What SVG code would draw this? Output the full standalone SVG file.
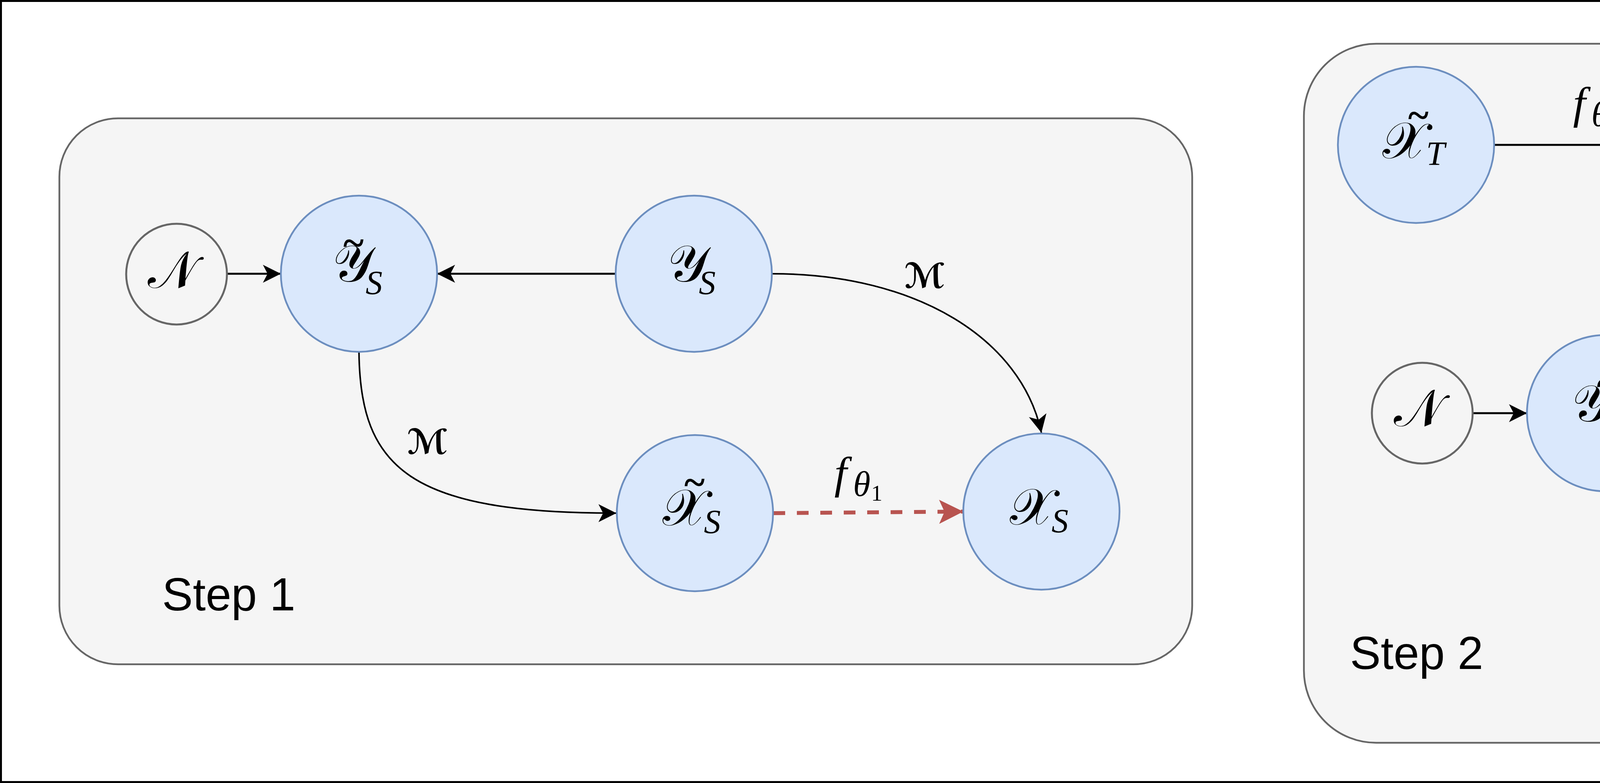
<svg xmlns="http://www.w3.org/2000/svg" width="6655" height="2005" viewBox="0 0 6655 2005">
<style>
.frame{fill:#ffffff;stroke:#000000;stroke-width:5}
.box{fill:#f5f5f5;stroke:#666666;stroke-width:4.5}
.node{fill:#dae8fc;stroke:#6c8ebf;stroke-width:4.5}
.noise{fill:none;stroke:#666666;stroke-width:5}
.edge{fill:none;stroke:#000000;stroke-width:5}
.curve{fill:none;stroke:#000000;stroke-width:4}
.dot{fill:none;stroke:#000000;stroke-width:4.5;stroke-dasharray:5 20}
.red{fill:none;stroke:#b85450;stroke-width:10;stroke-dasharray:30 30}
.scr{font-family:'DejaVu Serif','DejaVu Sans','Noto Sans',serif;font-size:132px;fill:#000}
.scrs{font-family:'DejaVu Serif','DejaVu Sans','Noto Sans',serif;font-size:88px;font-weight:bold;fill:#000}
.it{font-family:'Liberation Serif',serif;font-style:italic;fill:#000}
.rm{font-family:'Liberation Serif',serif;fill:#000}
.sub{font-size:86px}
.subd{font-size:52px}
.tl{font-family:'Liberation Serif',serif;font-weight:bold;font-size:100px;text-anchor:middle;fill:#000}
.hat{font-family:'Liberation Sans',sans-serif;font-size:130px;text-anchor:middle;fill:#000}
.sans{font-family:'Liberation Sans',Arial,sans-serif;fill:#000}
</style>
<defs>
<marker id="arr" markerUnits="userSpaceOnUse" markerWidth="46" markerHeight="46" viewBox="0 0 46 46" refX="46" refY="23" orient="auto"><path d="M0,0 L46,23 L0,46 L12,23 Z" fill="#000"/></marker>
<marker id="arrRed" markerUnits="userSpaceOnUse" markerWidth="62" markerHeight="62" viewBox="0 0 62 62" refX="62" refY="31" orient="auto"><path d="M0,0 L62,31 L0,62 L14,31 Z" fill="#b85450"/></marker>
</defs>
<rect class="frame" x="2.5" y="2.5" width="6650" height="2000"/>
<g id="step1">
<rect class="box" x="152" y="303" width="2900" height="1398" rx="150" ry="150"/>
<text class="sans" x="415" y="1563" font-size="118">Step 1</text>
</g>
<g id="step2">
<rect class="box" x="3338" y="112" width="3165" height="1790" rx="185" ry="185"/>
<text class="sans" x="3456" y="1713" font-size="118">Step 2</text>
</g>
<g id="connectors">
<path class="edge" d="M581 701 L719 701" marker-end="url(#arr)"/>
<path class="edge" d="M1576 701 L1119 701" marker-end="url(#arr)"/>
<path class="curve" d="M1976 701 C2350 701 2615 870 2666 1108" marker-end="url(#arr)"/>
<path class="curve" d="M919 902 C922 1200 1050 1314 1578 1314" marker-end="url(#arr)"/>
<path class="red" d="M1980 1314 L2466 1310" marker-end="url(#arrRed)"/>
<path class="edge" d="M3825 371 L4302 371" marker-end="url(#arr)"/>
<path class="edge" d="M4703 371 L5181 371" marker-end="url(#arr)"/>
<path class="edge" d="M5582 371 L6052 371" marker-end="url(#arr)"/>
<path class="dot" d="M6252 574 C6240 650 6130 675 5950 688 C5600 705 5250 715 5100 742 C5000 760 4957 790 4957 852" marker-end="url(#arr)"/>
<path class="edge" d="M3769 1058 L3909 1058" marker-end="url(#arr)"/>
<path class="edge" d="M4767 1058 L4309 1058" marker-end="url(#arr)"/>
<path class="curve" d="M5167 1058 C5541 1058 5806 1227 5857 1465" marker-end="url(#arr)"/>
<path class="curve" d="M4109 1259 C4112 1557 4240 1670 4768 1670" marker-end="url(#arr)"/>
<path class="red" d="M5168 1671 L5657 1667" marker-end="url(#arrRed)"/>
</g>
<g id="edge-labels">
<text class="scrs" x="2315" y="737">ℳ</text>
<text class="scrs" x="1042" y="1162">ℳ</text>
<text class="scrs" x="5504" y="1095">ℳ</text>
<text class="scrs" x="4235" y="1520">ℳ</text>
<text class="it"><tspan x="2136" y="1250" font-size="115">f</tspan><tspan x="2184" y="1270" font-size="90">θ</tspan><tspan class="rm" font-style="normal" x="2230" y="1282" font-size="58">1</tspan></text>
<text class="it"><tspan x="4027" y="303" font-size="115">f</tspan><tspan x="4074" y="323" font-size="90">θ</tspan><tspan font-style="normal" x="4121" y="337" font-size="58">1</tspan></text>
<text class="it"><tspan x="5327" y="1608" font-size="115">f</tspan><tspan x="5374" y="1628" font-size="90">θ</tspan><tspan font-style="normal" x="5421" y="1642" font-size="58">2</tspan></text>
<text class="sans" x="4927" y="312" font-size="100" text-anchor="middle">aug</text>
<text class="scr" x="5794" y="318">𝒜</text>
</g>
<g id="n1-noise"><circle class="noise" cx="452" cy="702" r="129"/><text class="scr" x="378" y="737" fill="#333">𝒩</text></g>
<g id="n1-ytilde-s"><circle class="node" cx="919" cy="701" r="200"/><text class="tl" x="905" y="655">~</text><text class="scr" x="851" y="720">𝒴</text><text class="it sub" x="936" y="753">S</text></g>
<g id="n1-y-s"><circle class="node" cx="1776" cy="701" r="200"/><text class="scr" x="1709" y="720">𝒴</text><text class="it sub" x="1789" y="753">S</text></g>
<g id="n1-xtilde-s"><circle class="node" cx="1779" cy="1314" r="200"/><text class="tl" x="1778" y="1268">~</text><text class="scr" x="1696" y="1345">𝒳</text><text class="it sub" x="1802" y="1365">S</text></g>
<g id="n1-x-s"><circle class="node" cx="2666" cy="1310" r="200"/><text class="scr" x="2585" y="1343">𝒳</text><text class="it sub" x="2692" y="1363">S</text></g>
<g id="n2-xtilde-t"><circle class="node" cx="3625" cy="371" r="200"/><text class="tl" x="3631" y="328">~</text><text class="scr" x="3539" y="405">𝒳</text><text class="it sub" x="3651" y="422">T</text></g>
<g id="n2-x-td"><circle class="node" cx="4502" cy="371" r="200"/><text class="scr" x="4392" y="400">𝒳</text><text class="it"><tspan class="sub" x="4498" y="417">T</tspan><tspan class="subd" x="4550" y="430">D</tspan></text></g>
<g id="n2-xhat-td"><circle class="node" cx="5381" cy="371" r="200"/><text class="hat" transform="translate(5329 342) scale(2.2 0.5)">^</text><text class="scr" x="5257" y="415">𝒳</text><text class="it"><tspan class="sub" x="5393" y="433">T</tspan><tspan class="subd" x="5444" y="446">D</tspan></text></g>
<g id="n2-yhat-td"><circle class="node" cx="6252" cy="371" r="200"/><text class="hat" transform="translate(6199 342) scale(2.2 0.5)">^</text><text class="scr" x="6128" y="404">𝒴</text><text class="it"><tspan class="sub" x="6263" y="433">T</tspan><tspan class="subd" x="6311" y="446">D</tspan></text></g>
<g id="n2-noise"><circle class="noise" cx="3641" cy="1058" r="129"/><text class="scr" x="3568" y="1091" fill="#333">𝒩</text></g>
<g id="n2-ytilde-tp"><circle class="node" cx="4109" cy="1058" r="200"/><text class="tl" x="4114" y="1014">~</text><text class="scr" x="4024" y="1078">𝒴</text><text class="it sub" x="4107" y="1107">T′</text></g>
<g id="n2-y-tp"><circle class="node" cx="4967" cy="1058" r="200"/><text class="scr" x="4883" y="1078">𝒴</text><text class="it sub" x="4960" y="1107">T′</text></g>
<g id="n2-xtilde-tp"><circle class="node" cx="4968" cy="1670" r="200"/><text class="tl" x="4968" y="1614">~</text><text class="scr" x="4872" y="1705">𝒳</text><text class="it sub" x="4977" y="1723">T′</text></g>
<g id="n2-x-tp"><circle class="node" cx="5857" cy="1666" r="200"/><text class="scr" x="5762" y="1700">𝒳</text><text class="it sub" x="5868" y="1719">T′</text></g>
</svg>
